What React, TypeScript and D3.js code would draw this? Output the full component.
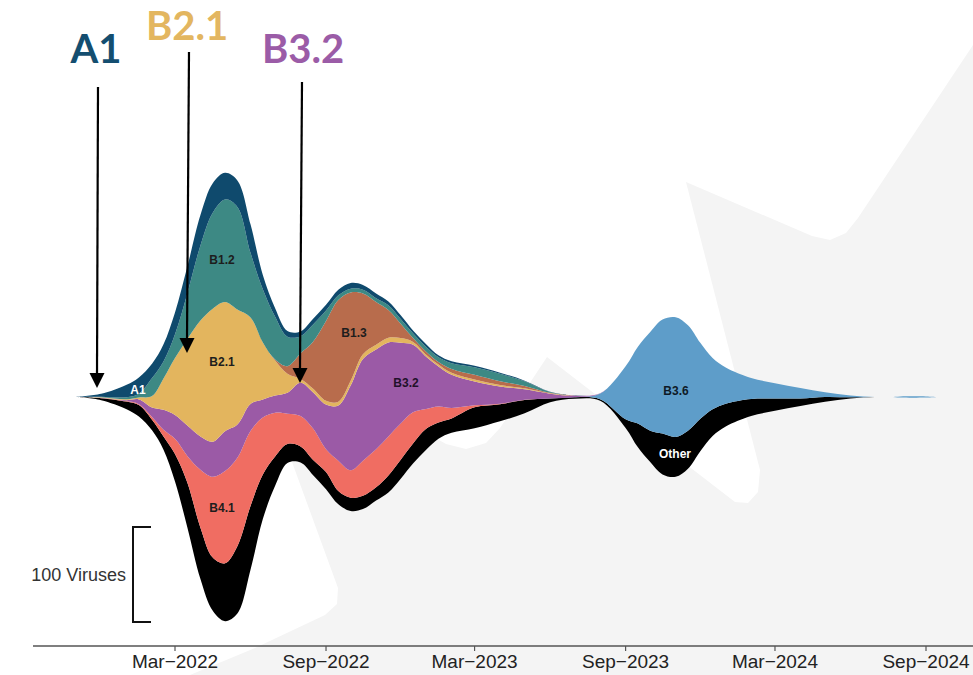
import React from "react";
import * as d3 from "d3";

// ---- data (virus counts; 100 viruses = scale bar) ----
const dates = [
  "2021-11-01","2021-12-01","2022-01-01","2022-01-16","2022-02-01","2022-02-15","2022-03-01","2022-03-16",
  "2022-04-01","2022-04-16","2022-05-01","2022-05-16","2022-06-01","2022-06-16","2022-07-01","2022-07-16",
  "2022-08-01","2022-08-16","2022-09-01","2022-09-16","2022-10-01","2022-10-16","2022-11-01","2022-11-16",
  "2022-12-01","2022-12-16","2023-01-01","2023-01-16","2023-02-01","2023-03-01","2023-04-01","2023-05-01",
  "2023-06-01","2023-07-01","2023-08-01","2023-09-01","2023-09-16","2023-10-01","2023-10-16","2023-11-01",
  "2023-11-16","2023-12-01","2023-12-16","2024-01-01","2024-02-01","2024-03-01","2024-04-01","2024-05-01",
  "2024-06-01","2024-07-01","2024-07-20","2024-08-01","2024-09-01","2024-09-15"
];

const A1 = [0,3,13,17,15,18,23,28,32,31,28,28,30,15,9,6,5,6,6,6,6,5,5,4,4,3,3,2.1,2.1,1.6,1,0.5,0.2,0,
  0,0,0,0,0,0,0,0,0,0,0,0,0,0,0,0,0,0,0,0];
const B1_2 = [0,0.5,2.1,4,19,18,25,48,79,101,108,108,68,56,45,31,18,18,11,5,4,4,4,5,5,5,5,5,6,8,8,5,1,0.1,
  0,0,0,0,0,0,0,0,0,0,0,0,0,0,0,0,0,0,0,0];
const B1_3 = [0,0,0,0,0,0,0,0,0,0,0,0,0,0,1,8,27,49,84,107,93,64,45,29,15,4,3,2.6,4,5,4,2.6,0.5,0.1,
  0,0,0,0,0,0,0,0,0,0,0,0,0,0,0,0,0,0,0,0];
const B2_1 = [0,0.5,1,2.1,12,33,60,91,122,140,136,121,91,60,37,20,4,4,4,4,5,5,5,5,5,3,2.1,2.1,2.1,2.1,1.6,1,0.3,0.1,
  0,0,0,0,0,0,0,0,0,0,0,0,0,0,0,0,0,0,0,0];
const B3_2 = [0,0.3,1,5,10,21,25,32,35,37,42,35,28.5,19,18,22,35,38,47,58,89,107,105,99,85,71,55,42,35,25,18,11,5,1.6,
  0.3,0,0,0,0,0,0,0,0,0,0,0,0,0,0,0,0,0,0,0];
const B4_1 = [0,0.2,0.5,1,3,7,16,28,61,85,97,93,79,60,46,32,32,33,24,32,29,37,40,41,38,33,21,17,11,2.1,0.5,0.3,0.1,0,
  0,0,0,0,0,0,0,0,0,0,0,0,0,0,0,0,0,0,0,0];
const B3_6 = [0,0,0,0,0,0,0,0,0,0,0,0,0,0,0,0,0,0,0,0,0,0,0,0,0,0,0,0,0,0,0,0,0,0,
  6,56,81,104,120,126,111,80,54,38,22,16,11,5,1.9,0,0,1.3,1.3,0];
const Other = [0,2.1,8,12,11,14,29,47,54,56,61,71,67,47,31,20,17,16,18,14,14,14,14,18,20,21,22,17,15,22,18,14,4,1.6,
  1.6,9,25,33,43,42,40,34,28,24,18,13,8,5,1.3,0,0,0,0,0];

const seriesKeys = ["Other", "B3.6", "B4.1", "B3.2", "B2.1", "B1.3", "B1.2", "A1"];
const seriesValues: Record<string, number[]> = {
  "A1": A1, "B1.2": B1_2, "B1.3": B1_3, "B2.1": B2_1,
  "B3.2": B3_2, "B4.1": B4_1, "B3.6": B3_6, "Other": Other,
};
const seriesColors: Record<string, string> = {
  "A1": "#0f4a6d", "B1.2": "#3d8984", "B1.3": "#b86c4c", "B2.1": "#e3b55e",
  "B3.2": "#9b5aa6", "B4.1": "#f06d62", "B3.6": "#5e9dc9", "Other": "#000000",
};

const tickDates = ["2022-03-01","2022-09-01","2023-03-01","2023-09-01","2024-03-01","2024-09-01"];
const tickLabels = ["Mar\u22122022","Sep\u22122022","Mar\u22122023","Sep\u22122023","Mar\u22122024","Sep\u22122024"];

const streamLabels = ["A1","B1.2","B2.1","B1.3","B3.2","B4.1","B3.6","Other"];
const streamLabelPos: [number, number][] = [[138,390],[222,260],[222,362],[354,333],[406,383],[222,508],[676,391],[675,454]];
const streamLabelFill = ["#ffffff","#1d1d1d","#1d1d1d","#1d1d1d","#22112a","#1d1d1d","#0e1a26","#ffffff"];

const annotLabels = ["A1", "B2.1", "B3.2"];
const annotColors = ["#144e70", "#e3b660", "#9b5ca7"];
const annotText: [number, number][] = [[96, 63], [187, 40], [303, 63]];
const annotArrows: [number, number, number, number][] = [[98,87,97,388],[189,52,187,353],[302,82,300,383]];

// background watermark shape (decoration)
const watermark: [number, number][] = [
  [973,45],[858,218],[846,233],[830,240],[812,236],[686,182],[760,470],[758,492],[748,503],[735,502],
  [547,357],[500,428],[486,443],[466,449],[446,444],[432,436],[400,420],[300,420],[286,440],[292,462],
  [338,588],[337,604],[325,615],[255,648],[190,675],[973,675]
];

export default function App() {
  const W = 973, H = 675;
  const parse = d3.utcParse("%Y-%m-%d");
  const x = d3.scaleUtc()
    .domain([parse("2022-03-01") as Date, parse("2024-09-01") as Date])
    .range([175, 926]);
  const cy = 397;
  const y = d3.scaleLinear().domain([-250, 250]).range([cy + 237.5, cy - 237.5]);

  const rows = dates.map((d, i) => {
    const r: any = { date: parse(d) };
    seriesKeys.forEach((k) => (r[k] = seriesValues[k][i]));
    return r;
  });
  const stack = d3.stack<any>().keys(seriesKeys)
    .offset(d3.stackOffsetSilhouette).order(d3.stackOrderNone);
  const layers = stack(rows);
  const area = d3.area<any>()
    .x((d) => x(d.data.date))
    .y0((d) => y(d[0]))
    .y1((d) => y(d[1]))
    .curve(d3.curveCatmullRom.alpha(0.5));

  const wm = d3.line().curve(d3.curveLinearClosed)(watermark) || "";

  const axisY = 646;
  const barTop = 527;
  const barBottom = barTop + (y(0) - y(100));

  return (
    <svg width={W} height={H} style={{ position: "absolute", left: 0, top: 0, background: "#fff" }}
      fontFamily="'Liberation Sans', Arial, sans-serif">
      <rect x={0} y={0} width={W} height={H} fill="#ffffff" />
      <path d={wm} fill="#f4f4f4" />
      {layers.map((l) => (
        <path key={l.key} d={area(l) || ""} fill={seriesColors[l.key]} />
      ))}
      {streamLabels.map((t, i) => (
        <text key={t} x={streamLabelPos[i][0]} y={streamLabelPos[i][1]} dy="0.35em"
          textAnchor="middle" fontSize={12} fontWeight={700} fill={streamLabelFill[i]}>{t}</text>
      ))}
      {/* scale bar */}
      <path d={`M151,${barTop}H133V${barBottom}H151`} fill="none" stroke="#111" strokeWidth={2} />
      <text x={126} y={(barTop + barBottom) / 2} dy="0.35em" textAnchor="end" fontSize={18} fill="#333">100 Viruses</text>
      {/* axis */}
      <line x1={33} x2={973} y1={axisY} y2={axisY} stroke="#555" strokeWidth={1.6} />
      {tickDates.map((t, i) => {
        const tx = x(parse(t) as Date);
        return (
          <g key={t}>
            <line x1={tx} x2={tx} y1={axisY} y2={axisY + 5} stroke="#555" strokeWidth={1.2} />
            <text x={tx} y={668} textAnchor="middle" fontSize={19} fill="#222">{tickLabels[i]}</text>
          </g>
        );
      })}
      {/* annotations */}
      {annotLabels.map((t, i) => {
        const [x1, y1, x2, y2] = annotArrows[i];
        return (
          <g key={t}>
            <text x={annotText[i][0]} y={annotText[i][1]} textAnchor="middle" fontSize={40}
              fontWeight={700} fontFamily="Lato, 'Open Sans', sans-serif" fill={annotColors[i]}>{t}</text>
            <line x1={x1} y1={y1} x2={x2} y2={y2 - 14} stroke="#000" strokeWidth={2.2} />
            <path d={`M${x2 - 7.5},${y2 - 15}L${x2 + 7.5},${y2 - 15}L${x2},${y2}Z`} fill="#000" />
          </g>
        );
      })}
    </svg>
  );
}
